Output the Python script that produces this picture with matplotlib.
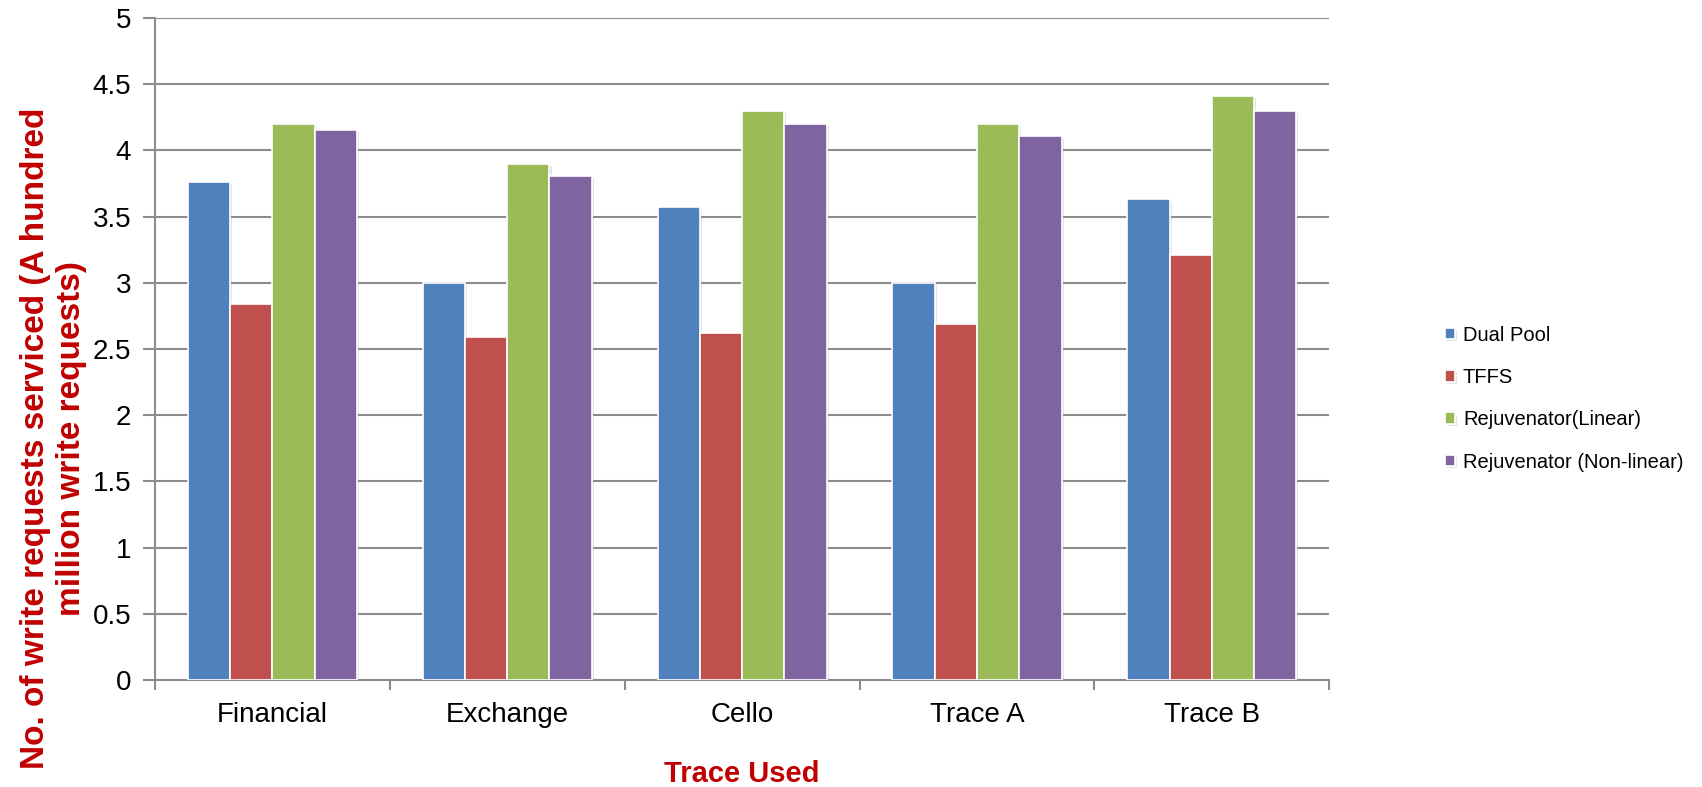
import matplotlib
matplotlib.use("Agg")
import matplotlib.pyplot as plt
import matplotlib.patheffects as pe
from matplotlib import font_manager
import numpy as np

plt.rcParams['font.family'] = ['Liberation Sans', 'DejaVu Sans']

traces = ['Financial', 'Exchange', 'Cello', 'Trace A', 'Trace B']
series = ['Dual Pool', 'TFFS', 'Rejuvenator(Linear)', 'Rejuvenator (Non-linear)']
dual_pool = [3.76, 3.0, 3.57, 3.0, 3.63]
tffs = [2.84, 2.59, 2.62, 2.69, 3.21]
rejuv_linear = [4.20, 3.90, 4.30, 4.20, 4.41]
rejuv_nonlinear = [4.155, 3.81, 4.20, 4.11, 4.30]
colors = ['#4F81BD', '#C0504D', '#9BBB59', '#8064A2']

# legend text in the reference is narrow; use the narrow face if there is one
names = {f.name for f in font_manager.fontManager.ttflist}
if 'Liberation Sans Narrow' in names:
    leg_font = {'family': 'Liberation Sans Narrow', 'size': 17}
    leg_space = 0.95
else:
    leg_font = {'family': 'Liberation Sans', 'size': 14.5}
    leg_space = 1.16

fig = plt.figure(figsize=(17.02, 7.87), dpi=100)
ax = fig.add_axes([0.091, 0.136, 0.690, 0.841])

x = np.arange(len(traces))
w = 0.18
shadow = [pe.SimplePatchShadow(offset=(1.5, -1.5), shadow_rgbFace='#aaaaaa', alpha=0.3), pe.Normal()]
for i, vals in enumerate([dual_pool, tffs, rejuv_linear, rejuv_nonlinear]):
    bars = ax.bar(x + (i - 1.5) * w, vals, w, color=colors[i], edgecolor='white',
                  linewidth=1.2, label=series[i], zorder=3)
    for b in bars:
        b.set_path_effects(shadow)

ax.set_xlim(-0.5, len(traces) - 0.5)
ax.set_ylim(0, 5)
ax.set_yticks(np.arange(0, 5.01, 0.5))
ax.set_yticklabels(['0', '0.5', '1', '1.5', '2', '2.5', '3', '3.5', '4', '4.5', '5'])
ax.yaxis.grid(True, color='#8c8c8c', linewidth=1.5, zorder=0)
ax.set_axisbelow(True)

ax.set_xticks(x)
ax.set_xticklabels(traces)
ax.set_xticks(np.arange(-0.5, len(traces)), minor=True)
ax.tick_params(axis='x', which='major', length=0, pad=16, labelsize=20)
ax.tick_params(axis='x', which='minor', length=7, width=1.5, color='#8c8c8c', direction='out')
ax.tick_params(axis='y', length=9, width=1.5, color='#8c8c8c', pad=8, labelsize=20)

for s in ['top', 'right']:
    ax.spines[s].set_visible(False)
for s in ['left', 'bottom']:
    ax.spines[s].set_color('#8c8c8c')
    ax.spines[s].set_linewidth(1.5)

ax.set_ylabel('No. of write requests serviced (A hundred\nmillion write requests)',
              fontsize=24, fontweight='bold', color='#C00000', linespacing=1.2)
ax.yaxis.set_label_coords(-0.058, 0.365)
ax.set_xlabel('Trace Used', fontsize=21, fontweight='bold', color='#C00000', labelpad=23)

leg = ax.legend(loc='center left', bbox_to_anchor=(1.083, 0.425), frameon=False, prop=leg_font,
                handlelength=0.5, handleheight=0.5, handletextpad=0.4, labelspacing=leg_space)

fig.savefig('out.png', dpi=100)
